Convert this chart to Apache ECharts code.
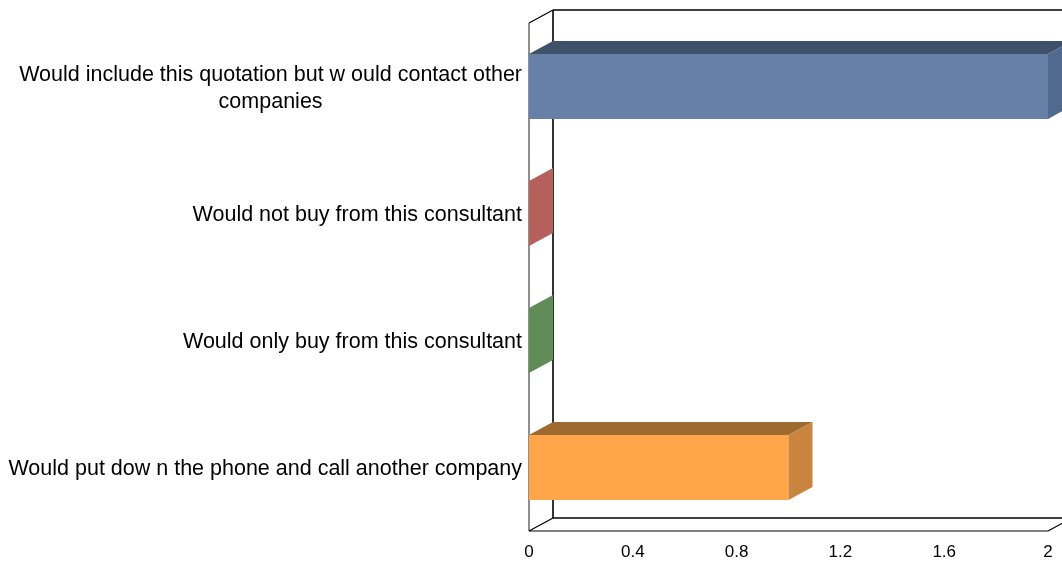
<!DOCTYPE html>
<html>
<head>
<meta charset="utf-8">
<script src="https://cdn.jsdelivr.net/npm/echarts@6/dist/echarts.min.js"></script>
<style>
  html, body { margin: 0; padding: 0; background: #fff; }
  #chart { width: 1062px; height: 564px; }
</style>
</head>
<body>
<div id="chart"></div>
<script>
// Survey answers and how many respondents picked each one
const categories = [
  'Would include this quotation but w ould contact other\ncompanies',
  'Would not buy from this consultant',
  'Would only buy from this consultant',
  'Would put dow n the phone and call another company'
];
const counts = [2, 0, 0, 1];
const xTicks = [0, 0.4, 0.8, 1.2, 1.6, 2];

// Face colours for each bar: front, top, side
const faceColors = [
  { front: '#6680A8', top: '#3F5069', side: '#52698F' },
  { front: '#B5605A', top: '#7E3F3B', side: '#9A4F4A' },
  { front: '#5F8C57', top: '#3E5D38', side: '#517A4A' },
  { front: '#FFA64B', top: '#9E6A30', side: '#C9853F' }
];

// Depth offset of the 3D projection (pixels)
const DX = 24, DY = 13;
const BAR_RATIO = 0.51;

function bandInfo(api) {
  const band = api.size([0, 1])[1];
  const x0 = api.coord([xTicks[0], 0])[0];
  const xR = api.coord([xTicks[xTicks.length - 1], 0])[0];
  const yTop = api.coord([0, 0])[1] - band / 2;
  const yBot = api.coord([0, categories.length - 1])[1] + band / 2;
  return { band, x0, xR, yTop, yBot };
}

function renderFrame(params, api) {
  const b = bandInfo(api);
  const line = (x1, y1, x2, y2, color, w) => ({
    type: 'line',
    shape: { x1, y1, x2, y2 },
    style: { stroke: color || '#000', lineWidth: w || 1.6 }
  });
  return {
    type: 'group',
    children: [
      line(b.x0 + DX, b.yTop - DY, b.xR + DX, b.yTop - DY),
      line(b.x0 + DX, b.yTop - DY, b.x0 + DX, b.yBot - DY),
      line(b.x0 + DX, b.yBot - DY, b.xR + DX, b.yBot - DY),
      line(b.x0, b.yTop, b.x0 + DX, b.yTop - DY, '#000', 1.2),
      line(b.x0, b.yBot, b.x0 + DX, b.yBot - DY, '#000', 1.2),
      line(b.xR, b.yBot, b.xR + DX, b.yBot - DY, '#000', 1.2),
      line(b.x0, b.yTop, b.x0, b.yBot, '#444', 1.2),
      line(b.x0, b.yBot, b.xR, b.yBot, '#000', 1.2)
    ]
  };
}

function renderBar(params, api) {
  const v = api.value(0);
  const c = api.value(1);
  const start = api.coord([0, c]);
  const end = api.coord([v, c]);
  const h = api.size([0, 1])[1] * BAR_RATIO;
  const x0 = start[0], x1 = end[0];
  const y0 = start[1] - h / 2, y1 = start[1] + h / 2;
  const col = faceColors[params.dataIndex];
  const children = [];
  if (x1 > x0) {
    children.push({
      type: 'rect',
      shape: { x: x0, y: y0, width: x1 - x0, height: y1 - y0 },
      style: { fill: col.front }
    });
    children.push({
      type: 'polygon',
      shape: { points: [[x0, y0], [x1, y0], [x1 + DX, y0 - DY], [x0 + DX, y0 - DY]] },
      style: { fill: col.top }
    });
  }
  children.push({
    type: 'polygon',
    shape: { points: [[x1, y0], [x1 + DX, y0 - DY], [x1 + DX, y1 - DY], [x1, y1]] },
    style: { fill: x1 > x0 ? col.side : col.front }
  });
  return { type: 'group', children };
}

const chart = echarts.init(document.getElementById('chart'), null, { renderer: 'canvas' });
const labelFont = { fontFamily: 'Liberation Sans, Arial, sans-serif', fontSize: 21.5, color: '#000' };

chart.setOption({
  animation: false,
  backgroundColor: '#fff',
  grid: { left: 529, right: 14, top: 23, bottom: 33, containLabel: false },
  xAxis: {
    type: 'value',
    min: xTicks[0],
    max: xTicks[xTicks.length - 1],
    interval: 0.4,
    axisLine: { show: false },
    axisTick: { show: false },
    splitLine: { show: false },
    axisLabel: {
      margin: 13,
      fontFamily: 'Liberation Sans, Arial, sans-serif',
      fontSize: 17,
      color: '#000',
      formatter: v => String(Math.round(v * 10) / 10)
    }
  },
  yAxis: {
    type: 'category',
    data: categories,
    inverse: true,
    axisLine: { show: false },
    axisTick: { show: false },
    splitLine: { show: false },
    axisLabel: Object.assign({
      margin: 7,
      lineHeight: 27,
      padding: [4, 0, 0, 0],
      formatter: function (value) {
        if (value.indexOf('\n') >= 0) {
          return value.split('\n').map(s => '{c|' + s + '}').join('\n');
        }
        return value;
      },
      rich: {
        c: Object.assign({ align: 'center', lineHeight: 27 }, labelFont)
      }
    }, labelFont)
  },
  series: [
    {
      type: 'custom',
      name: 'frame',
      renderItem: renderFrame,
      data: [[0, 0]],
      silent: true,
      z: 1
    },
    {
      type: 'custom',
      name: 'bars',
      renderItem: renderBar,
      encode: { x: 0, y: 1 },
      data: counts.map((v, i) => [v, i]),
      z: 2
    }
  ]
});
</script>
</body>
</html>
